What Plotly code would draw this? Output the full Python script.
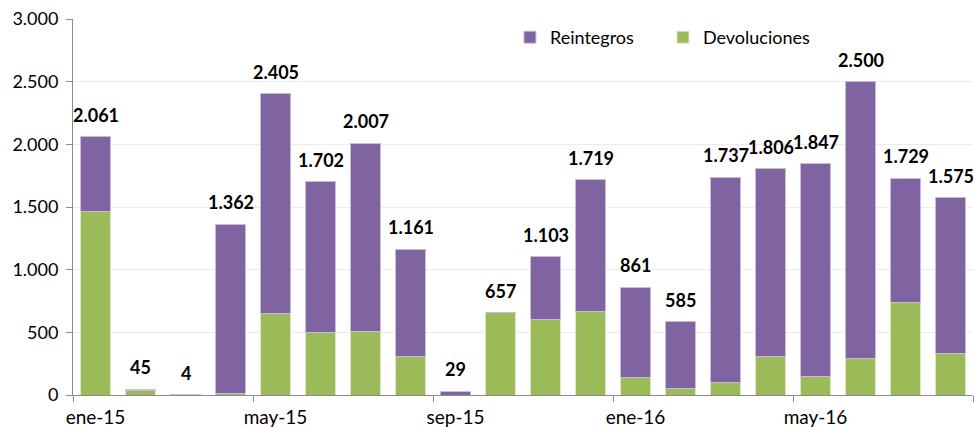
"""
plot.py — Reintegros vs Devoluciones por mes (barras apiladas)
"""

import plotly.graph_objects as go


# ── Data ──────────────────────────────────────────────────────────────────────

months = [
    "ene-15", "feb-15", "mar-15", "abr-15", "may-15", "jun-15", "jul-15", "ago-15",
    "sep-15", "oct-15", "nov-15", "dic-15", "ene-16", "feb-16", "mar-16", "abr-16",
    "may-16", "jun-16", "jul-16", "ago-16",
]
devoluciones = [1465, 35, 0, 10, 650, 500, 505, 305, 0, 657,
                600, 665, 140, 50, 100, 305, 150, 295, 735, 335]
totals = [2061, 45, 4, 1362, 2405, 1702, 2007, 1161, 29, 657,
          1103, 1719, 861, 585, 1737, 1806, 1847, 2500, 1729, 1575]
reintegros = [t - d for t, d in zip(totals, devoluciones)]


# ── Style ─────────────────────────────────────────────────────────────────────

PURPLE = "#8064A2"
GREEN = "#9BBB59"
FONT = "Lato, 'Open Sans', sans-serif"


def fmt(v):
    return f"{v:,}".replace(",", ".")


# ── Figure ────────────────────────────────────────────────────────────────────

fig = go.Figure()

fig.add_trace(go.Bar(
    x=months, y=devoluciones,
    name="Devoluciones",
    marker=dict(color=GREEN, line=dict(color="#dde8c6", width=1)),
))

fig.add_trace(go.Bar(
    x=months, y=reintegros,
    name="Reintegros",
    marker=dict(color=PURPLE, line=dict(color="#c9bcd9", width=1)),
))

for m, t in zip(months, totals):
    fig.add_annotation(
        x=m, y=t, text=f"<b>{fmt(t)}</b>",
        showarrow=False, yanchor="bottom", yshift=9,
        font=dict(family=FONT, size=18, color="#000000"),
    )

fig.update_layout(
    barmode="stack",
    bargap=1 / 3,
    separators=",.",
    width=974, height=427,
    margin=dict(l=73, r=1, t=19, b=32, autoexpand=False),
    plot_bgcolor="white",
    paper_bgcolor="white",
    font=dict(family=FONT, size=17, color="#000000"),
    showlegend=True,
    legend=dict(
        orientation="h", traceorder="reversed",
        x=0.4855, y=1.0, xanchor="left", yanchor="top",
        entrywidth=108,
        bgcolor="rgba(0,0,0,0)",
        font=dict(family=FONT, size=18),
    ),
    xaxis=dict(
        type="category",
        range=[-0.5, len(months) - 0.5],
        tickson="boundaries",
        dtick=4,
        tickangle=0,
        automargin=False,
        ticks="outside", ticklen=6, tickcolor="#8c8c8c",
        ticklabelstandoff=5,
        showline=True, linecolor="#8c8c8c", linewidth=1,
        showgrid=False,
        tickfont=dict(family=FONT, size=19),
    ),
    yaxis=dict(
        range=[0, 3000],
        dtick=500,
        tickformat=",d",
        automargin=False,
        ticks="outside", ticklen=6, tickcolor="#8c8c8c",
        ticklabelstandoff=4,
        showline=True, linecolor="#8c8c8c", linewidth=1,
        gridcolor="#ebebeb", gridwidth=1,
        zeroline=False,
        tickfont=dict(family=FONT, size=18),
    ),
)

fig.write_html(
    "out.html",
    config={"displayModeBar": False},
    post_script="document.body.style.margin='0';",
)
